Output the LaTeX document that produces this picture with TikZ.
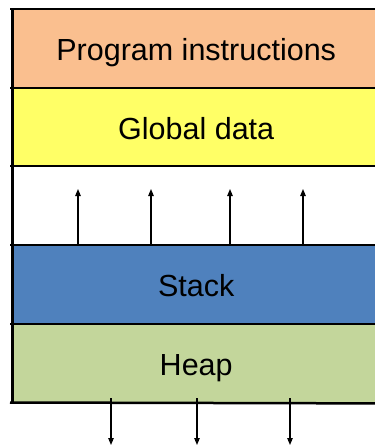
\documentclass[tikz,border=0pt]{standalone}
\usepackage{fontspec}
\setmainfont{Liberation Sans}
\usetikzlibrary{arrows.meta}

\definecolor{progcol}{HTML}{FABF8F}
\definecolor{globcol}{HTML}{FFFF66}
\definecolor{stackcol}{HTML}{4F81BD}
\definecolor{heapcol}{HTML}{C3D69B}

\tikzset{
  band/.style={anchor=north west, inner sep=0pt, minimum width=368pt, minimum height=79pt,
    text height=23pt, text depth=0pt, font=\fontsize{30.5}{36}\selectfont},
  rule/.style={line width=2.5pt},
  growth/.style={line width=1.1pt, -{Triangle[length=7pt,width=5.5pt]}}
}

\begin{document}
\begin{tikzpicture}[x=1pt,y=-1pt]
\useasboundingbox (0,0) rectangle (375,445);
\clip (0,0) rectangle (375,445);
% memory bands
\node[band, fill=progcol] (prog) at (12,9) {Program instructions};
\node[band, fill=globcol] (glob) at (12,88) {Global data};
\node[band] (free) at (12,166) {};
\node[band, fill=stackcol] (stack) at (12,245) {Stack};
\node[band, fill=heapcol] (heap) at (12,324) {Heap};
% separating lines
\draw[rule] (10,9) -- (prog.north east);
\draw[rule] (10,88) -- (glob.north east);
\draw[rule] (10,166) -- (free.north east);
\draw[rule] (10,245) -- (stack.north east);
\draw[rule] (10,324) -- (heap.north east);
\draw[rule] (10,402.5) -- (heap.south east);
\draw[line width=3pt] (12.5,8) -- (12.5,403.5);
% stack grows up
\foreach \x [count=\i] in {78,151,230,303}{
  \coordinate (up\i) at (\x,189);
  \draw[growth] (up\i |- stack.north) -- (up\i);
}
% heap grows down
\foreach \x [count=\i] in {111,197,290}{
  \coordinate (dn\i) at (\x,445);
  \draw[growth] ([yshift=5pt]dn\i |- heap.south) -- (dn\i);
}
\end{tikzpicture}
\end{document}
